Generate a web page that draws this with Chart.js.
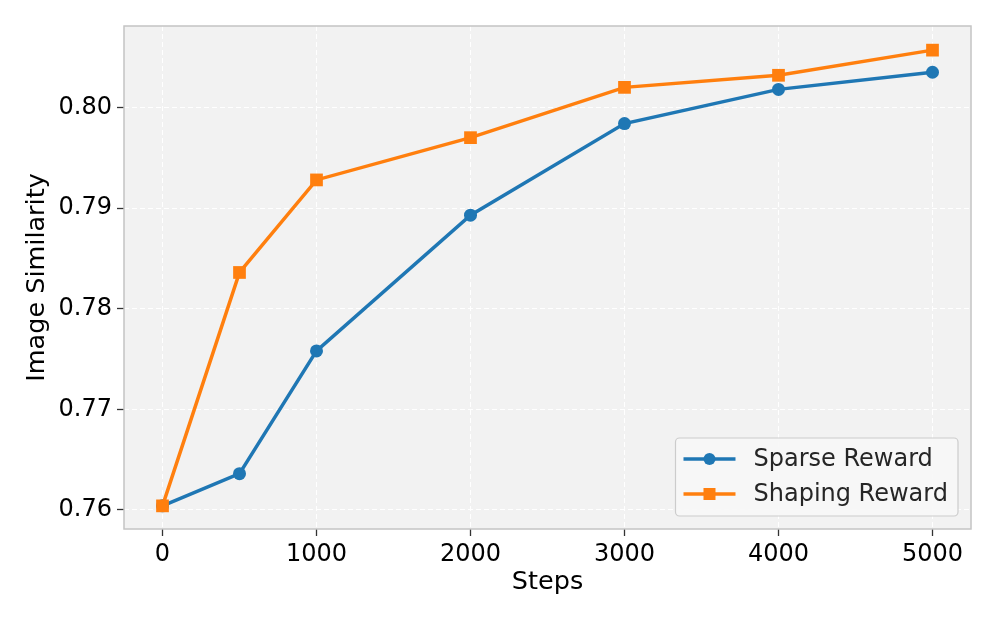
<!DOCTYPE html>
<html>
<head>
<meta charset="utf-8">
<script src="https://cdn.jsdelivr.net/npm/chart.js@4"></script>
<style>
  html, body { margin: 0; padding: 0; background: #fff; }
  #wrap { width: 997px; height: 623px; }
</style>
</head>
<body>
<div id="wrap"><canvas id="simChart" width="997" height="623"></canvas></div>
<script>
// values
const steps = [0, 500, 1000, 2000, 3000, 4000, 5000];
const sparseReward = [0.7604, 0.7636, 0.7758, 0.7893, 0.7984, 0.8018, 0.8035];
const shapingReward = [0.7604, 0.7836, 0.7928, 0.7970, 0.8020, 0.8032, 0.8057];
const xTicks = [0, 1000, 2000, 3000, 4000, 5000];
const yTicks = [0.76, 0.77, 0.78, 0.79, 0.80];

const FONT = 'DejaVu Sans';

/**
 * Plot area background + frame (matplotlib style box)
 */
const plotFrame = {
    id: 'plotFrame',
    beforeDraw(chart) {
        const { ctx, chartArea: a } = chart;
        ctx.save();
        ctx.fillStyle = '#f2f2f2';
        ctx.fillRect(a.left, a.top, a.right - a.left, a.bottom - a.top);
        ctx.restore();
    },
    afterDraw(chart) {
        const { ctx, chartArea: a } = chart;
        ctx.save();
        ctx.strokeStyle = '#c4c4c4';
        ctx.lineWidth = 1.5;
        ctx.strokeRect(a.left, a.top, a.right - a.left, a.bottom - a.top);
        ctx.restore();
    }
};

/**
 * Legend in the lower right corner with line + marker samples
 */
const cornerLegend = {
    id: 'cornerLegend',
    afterDraw(chart) {
        const { ctx, chartArea: a } = chart;
        const sets = chart.data.datasets;
        ctx.save();
        ctx.font = '24px "' + FONT + '"';
        const textW = Math.max(...sets.map(d => ctx.measureText(d.label).width));
        const w = 8 + 52 + 18 + textW + 10;
        const h = 78;
        const x = a.right - 13 - w;
        const y = a.bottom - 13 - h;

        ctx.beginPath();
        ctx.roundRect(x, y, w, h, 4);
        ctx.fillStyle = 'rgba(247,247,247,0.9)';
        ctx.fill();
        ctx.strokeStyle = '#cccccc';
        ctx.lineWidth = 1.2;
        ctx.stroke();

        sets.forEach((d, i) => {
            const cy = y + 21 + i * 35;
            const lx = x + 8;
            ctx.strokeStyle = d.borderColor;
            ctx.lineWidth = d.borderWidth;
            ctx.beginPath();
            ctx.moveTo(lx, cy);
            ctx.lineTo(lx + 52, cy);
            ctx.stroke();
            ctx.fillStyle = d.borderColor;
            if (d.pointStyle === 'rect') {
                ctx.fillRect(lx + 26 - 6, cy - 6, 12, 12);
            } else {
                ctx.beginPath();
                ctx.arc(lx + 26, cy, 6, 0, Math.PI * 2);
                ctx.fill();
            }
            ctx.fillStyle = '#262626';
            ctx.textBaseline = 'middle';
            ctx.textAlign = 'left';
            ctx.fillText(d.label, lx + 52 + 18, cy + 1);
        });
        ctx.restore();
    }
};

function initSimilarityChart() {
    const data = {
        datasets: [{
            label: 'Sparse Reward',
            data: steps.map((s, i) => ({ x: s, y: sparseReward[i] })),
            borderColor: '#1f77b4',
            backgroundColor: '#1f77b4',
            borderWidth: 3.5,
            pointStyle: 'circle',
            pointRadius: 6.5,
            pointBorderWidth: 0,
            order: 1
        }, {
            label: 'Shaping Reward',
            data: steps.map((s, i) => ({ x: s, y: shapingReward[i] })),
            borderColor: '#ff7f0e',
            backgroundColor: '#ff7f0e',
            borderWidth: 3.5,
            pointStyle: 'rect',
            pointRadius: 9,
            pointBorderWidth: 0,
            order: 0
        }]
    };

    const gridOpts = {
        color: 'rgba(255,255,255,0.95)',
        lineWidth: 1,
        tickColor: '#333',
        tickLength: 7,
        tickWidth: 1.3
    };

    const config = {
        type: 'line',
        data: data,
        plugins: [plotFrame, cornerLegend],
        options: {
            responsive: false,
            animation: false,
            devicePixelRatio: 1,
            layout: { padding: { left: 0, right: 26, top: 26, bottom: 0 } },
            plugins: {
                legend: { display: false },
                tooltip: { enabled: false }
            },
            scales: {
                x: {
                    type: 'linear',
                    min: -250,
                    max: 5250,
                    afterBuildTicks: scale => { scale.ticks = xTicks.map(v => ({ value: v })); },
                    afterFit: scale => { scale.height = 94; },
                    grid: gridOpts,
                    border: { display: false, dash: [5, 3] },
                    ticks: {
                        color: '#000',
                        padding: 4,
                        maxRotation: 0,
                        font: { family: FONT, size: 24 },
                        callback: v => String(v)
                    },
                    title: {
                        display: true,
                        text: 'Steps',
                        color: '#000',
                        font: { family: FONT, size: 25.5 },
                        padding: { top: 0, bottom: 25 }
                    }
                },
                y: {
                    min: 0.7581,
                    max: 0.8081,
                    afterBuildTicks: scale => { scale.ticks = yTicks.map(v => ({ value: v })); },
                    afterFit: scale => { scale.width = 124; },
                    grid: gridOpts,
                    border: { display: false, dash: [5, 3] },
                    ticks: {
                        color: '#000',
                        padding: 5,
                        font: { family: FONT, size: 24 },
                        callback: v => v.toFixed(2)
                    },
                    title: {
                        display: true,
                        text: 'Image Similarity',
                        color: '#000',
                        font: { family: FONT, size: 25.5 },
                        padding: { top: 22, bottom: 0 }
                    }
                }
            }
        }
    };

    const ctx = document.getElementById('simChart').getContext('2d');
    new Chart(ctx, config);
}

initSimilarityChart();
</script>
</body>
</html>
